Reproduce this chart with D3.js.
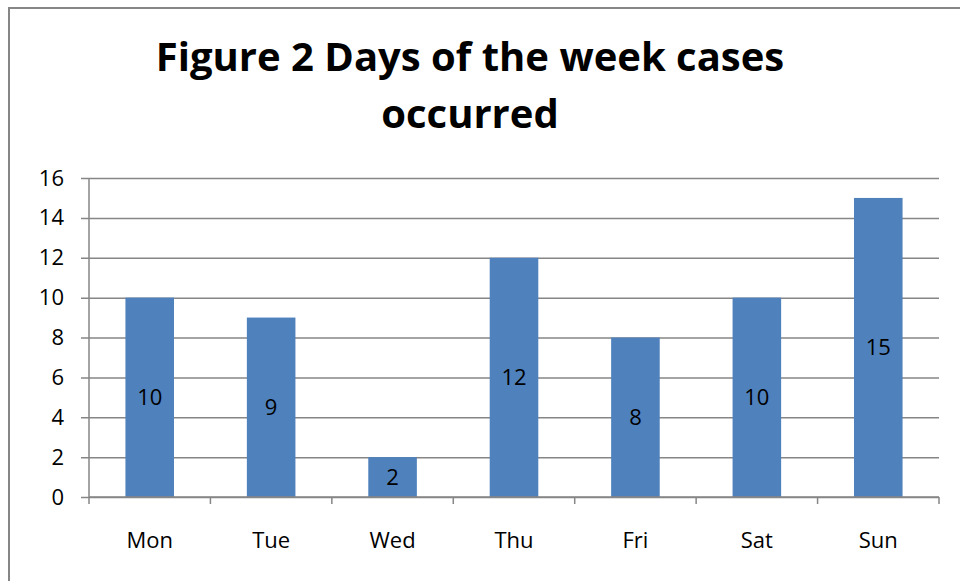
<!DOCTYPE html>
<html>
<head>
<meta charset="utf-8">
<script src="https://cdn.jsdelivr.net/npm/d3@7"></script>
<style>
  body { margin: 0; background: #fff; }
  text { font-family: "Open Sans", "Liberation Sans", sans-serif; }
</style>
</head>
<body>
<div id="chart"></div>
<script>
  // chart data
  var days = ["Mon", "Tue", "Wed", "Thu", "Fri", "Sat", "Sun"];
  var cases = [10, 9, 2, 12, 8, 10, 15];
  var yTicks = [0, 2, 4, 6, 8, 10, 12, 14, 16];
  var titleLines = ["Figure 2 Days of the week cases", "occurred"];

  var svgWidth = 960;
  var svgHeight = 581;

  var margin = { top: 178, right: 21, bottom: 84, left: 89 };
  var width = svgWidth - margin.left - margin.right;
  var height = svgHeight - margin.top - margin.bottom;

  var svg = d3.select("#chart")
    .append("svg")
    .attr("width", svgWidth)
    .attr("height", svgHeight);

  // outer chart border
  svg.append("rect")
    .attr("x", 9)
    .attr("y", 8)
    .attr("width", svgWidth + 20)
    .attr("height", svgHeight + 20)
    .attr("fill", "none")
    .attr("stroke", "#868686")
    .attr("stroke-width", 2);

  // title
  svg.append("text")
    .attr("text-anchor", "middle")
    .attr("font-size", "40px")
    .attr("font-weight", "bold")
    .attr("fill", "#000")
    .selectAll("tspan")
    .data(titleLines)
    .enter()
    .append("tspan")
    .attr("x", 470)
    .attr("y", (d, i) => 71 + i * 57)
    .text(d => d);

  var chartGroup = svg.append("g")
    .attr("transform", `translate(${margin.left}, ${margin.top})`);

  var xScale = d3.scaleBand()
    .domain(days)
    .range([0, width])
    .paddingInner(0.6)
    .paddingOuter(0.3);

  var yScale = d3.scaleLinear()
    .domain([0, 16])
    .range([height, 0]);

  // gridlines + y axis
  var yAxis = d3.axisLeft(yScale)
    .tickValues(yTicks)
    .tickSize(-width)
    .tickPadding(25)
    .tickSizeOuter(0);

  var yG = chartGroup.append("g").call(yAxis);
  yG.select(".domain").remove();
  yG.selectAll(".tick line")
    .attr("x1", -8)
    .attr("stroke", "#868686")
    .attr("stroke-width", 1.5);
  yG.selectAll(".tick text")
    .attr("font-size", "22px")
    .attr("fill", "#000")
    .style("font-family", "'Open Sans', sans-serif");

  chartGroup.append("line")
    .attr("x1", 0).attr("x2", 0)
    .attr("y1", 0).attr("y2", height)
    .attr("stroke", "#868686")
    .attr("stroke-width", 1.5);

  // bars
  chartGroup.selectAll("rect.bar")
    .data(cases)
    .enter()
    .append("rect")
    .attr("class", "bar")
    .attr("x", (d, i) => xScale(days[i]))
    .attr("y", d => yScale(d))
    .attr("width", xScale.bandwidth())
    .attr("height", d => height - yScale(d))
    .attr("fill", "#4F81BD");

  // value labels
  chartGroup.selectAll("text.value")
    .data(cases)
    .enter()
    .append("text")
    .attr("class", "value")
    .attr("x", (d, i) => xScale(days[i]) + xScale.bandwidth() / 2)
    .attr("y", d => (yScale(d) + height) / 2)
    .attr("dy", "0.35em")
    .attr("text-anchor", "middle")
    .attr("font-size", "22px")
    .attr("fill", "#000")
    .text(d => d);

  // x axis
  var step = width / days.length;
  var xG = chartGroup.append("g")
    .attr("transform", `translate(0, ${height})`);

  xG.append("line")
    .attr("x1", 0).attr("x2", width)
    .attr("stroke", "#868686")
    .attr("stroke-width", 1.5);

  xG.selectAll("line.tick")
    .data(d3.range(days.length + 1))
    .enter()
    .append("line")
    .attr("class", "tick")
    .attr("x1", d => d * step)
    .attr("x2", d => d * step)
    .attr("y1", 0)
    .attr("y2", 7)
    .attr("stroke", "#868686")
    .attr("stroke-width", 1.5);

  xG.selectAll("text")
    .data(days)
    .enter()
    .append("text")
    .attr("x", d => xScale(d) + xScale.bandwidth() / 2)
    .attr("y", 43)
    .attr("dy", "0.35em")
    .attr("text-anchor", "middle")
    .attr("font-size", "22px")
    .attr("fill", "#000")
    .text(d => d);
</script>
</body>
</html>
